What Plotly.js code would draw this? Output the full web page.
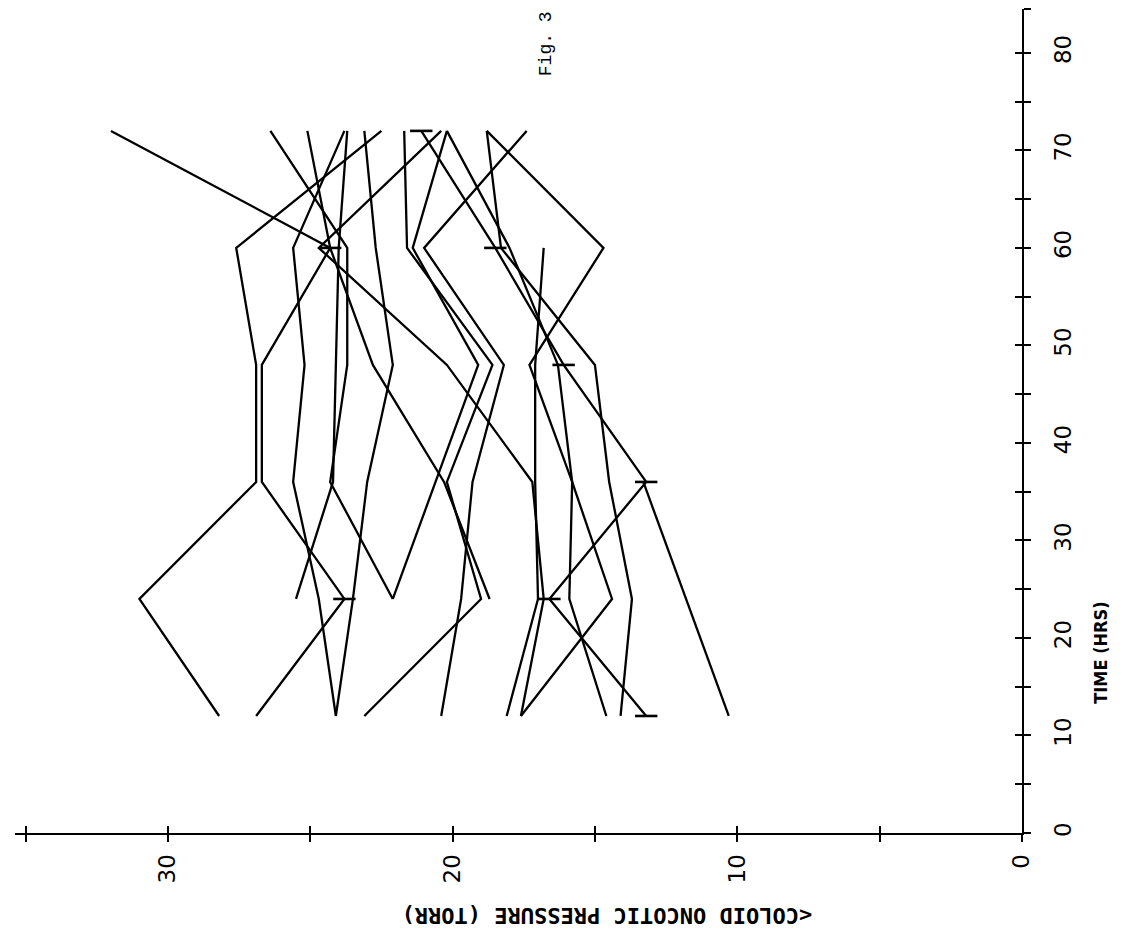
<!DOCTYPE html>
<html>
<head>
<meta charset="utf-8">
<script src="https://cdn.plot.ly/plotly-3.0.1.min.js"></script>
<style>html,body{margin:0;padding:0;background:#fff;}#chart{width:1136px;height:944px;}</style>
</head>
<body>
<div id="chart"></div>
<script>
// Time points (hours) at which colloid oncotic pressure was measured
const times = [12, 24, 36, 48, 60, 72];

// Colloid oncotic pressure (torr) per patient, null = not measured
const patient01 = [28.2, 31.0, 26.9, 26.9, 27.6, 22.5];
const patient02 = [26.9, 23.8, 26.7, 26.7, 24.3, 32.0];
const patient03 = [24.1, 24.7, 25.6, 25.2, 25.6, 23.8];
const patient04 = [24.1, 23.5, 23.0, 22.1, 22.7, 23.1];
const patient05 = [null, 25.5, 24.2, 24.1, 24.0, 23.7];
const patient06 = [null, 22.1, 24.3, 23.7, 23.7, 26.4];
const patient07 = [null, 22.1, 20.6, 19.1, 21.4, 20.2];
const patient08 = [23.1, 19.0, 20.2, 18.6, 21.6, 21.7];
const patient09 = [20.4, 19.7, 19.3, 18.2, 21.0, 17.4];
const patient10 = [null, 18.7, 20.3, 22.8, 24.3, 25.1];
const patient11 = [17.6, 16.8, 17.2, 20.2, 24.7, 20.4];
const patient12 = [17.6, 14.4, 15.8, 16.3, 18.0, 20.2];
const patient13 = [14.6, 15.9, 15.8, 17.3, 14.7, 18.8];
const patient14 = [18.1, 17.0, 17.1, 17.1, 16.8, null];
const patient15 = [14.1, 13.7, 14.5, 15.0, 18.3, 18.8];
const patient16 = [13.2, 16.6, 13.2, 16.1, 18.5, 21.1];
const patient17 = [10.3, null, 13.3, null, null, null];

const patients = [patient01, patient02, patient03, patient04, patient05, patient06,
  patient07, patient08, patient09, patient10, patient11, patient12, patient13,
  patient14, patient15, patient16, patient17];

// Short end marks drawn on some points
const markTimes = [12, 24, 36, 48, 60, 72, 24, 60];
const markValues = [13.2, 16.6, 13.2, 16.1, 18.5, 21.1, 23.8, 24.3];

// Axis ticks
const pressureTicks = [35, 30, 25, 20, 15, 10, 5, 0];
const pressureLabels = ['', '30', '', '20', '', '10', '', '0'];
const timeTicks = [0, 5, 10, 15, 20, 25, 30, 35, 40, 45, 50, 55, 60, 65, 70, 75, 80];
const timeLabels = ['0', '', '10', '', '20', '', '30', '', '40', '', '50', '', '60', '', '70', '', '80'];

const P_MAX = 35.37, T_MAX = 84.5;

const traces = patients.map(p => ({
  type: 'scatter', mode: 'lines', x: p, y: times,
  line: {color: '#000', width: 2.3}, connectgaps: true,
  hoverinfo: 'skip', showlegend: false
}));
traces.push({
  type: 'scatter', mode: 'markers', x: markValues, y: markTimes,
  marker: {symbol: 'line-ew', size: 16, line: {color: '#000', width: 2.6}},
  hoverinfo: 'skip', showlegend: false
});
// invisible trace carrying the overlay axes (inner halves of the crossing ticks)
traces.push({type: 'scatter', mode: 'none', x: [0], y: [0], xaxis: 'x2', yaxis: 'y2',
  hoverinfo: 'skip', showlegend: false});

const tickFont = {family: 'DejaVu Sans, sans-serif', size: 23, color: '#000'};

const layout = {
  width: 1136, height: 944,
  margin: {l: 15, r: 114, t: 9, b: 111},
  paper_bgcolor: '#fff', plot_bgcolor: '#fff',
  showlegend: false,
  xaxis: {
    range: [P_MAX, 0], showgrid: false, zeroline: false,
    showline: true, linecolor: '#000', linewidth: 2,
    ticks: 'outside', ticklen: 7, tickwidth: 2, tickcolor: '#000',
    tickmode: 'array', tickvals: pressureTicks, ticktext: pressureLabels,
    tickangle: -90, tickfont: tickFont, ticklabelstandoff: 3
  },
  yaxis: {
    range: [0, T_MAX], side: 'right', showgrid: false, zeroline: false,
    showline: true, linecolor: '#000', linewidth: 2,
    ticks: 'outside', ticklen: 7, tickwidth: 2, tickcolor: '#000',
    tickmode: 'array', tickvals: timeTicks.concat([T_MAX]), ticktext: timeLabels.concat(['']),
    tickangle: -90, tickfont: tickFont, ticklabelstandoff: 12
  },
  xaxis2: {
    overlaying: 'x', anchor: 'y2', range: [P_MAX, 0], showgrid: false, zeroline: false,
    showline: false, ticks: 'inside', ticklen: 7, tickwidth: 2, tickcolor: '#000',
    tickmode: 'array', tickvals: pressureTicks, showticklabels: false
  },
  yaxis2: {
    overlaying: 'y', anchor: 'x2', side: 'right', range: [0, T_MAX], showgrid: false, zeroline: false,
    showline: false, ticks: 'inside', ticklen: 7, tickwidth: 2, tickcolor: '#000',
    tickmode: 'array', tickvals: timeTicks.concat([T_MAX]), showticklabels: false
  },
  annotations: [
    {text: '<b>TIME (HRS)</b>', xref: 'paper', yref: 'y', x: 1.09, y: 18.5, showarrow: false,
     textangle: -90, font: {family: 'DejaVu Sans Condensed, DejaVu Sans, sans-serif', size: 18, color: '#000'}},
    {text: '<b>&lt;COLOID ONCOTIC PRESSURE (TORR)</b>', xref: 'paper', yref: 'paper', x: 0.588, y: -0.118,
     showarrow: false, textangle: 180,
     font: {family: 'DejaVu Sans Mono, monospace', size: 22, color: '#000'}},
    {text: 'Fig. 3', xref: 'paper', yref: 'paper', x: 0.527, y: 1.0, yanchor: 'top', showarrow: false,
     textangle: -90, font: {family: 'Liberation Mono, monospace', size: 18, color: '#000'}}
  ]
};

Plotly.newPlot('chart', traces, layout, {staticPlot: true, displayModeBar: false});
</script>
</body>
</html>
